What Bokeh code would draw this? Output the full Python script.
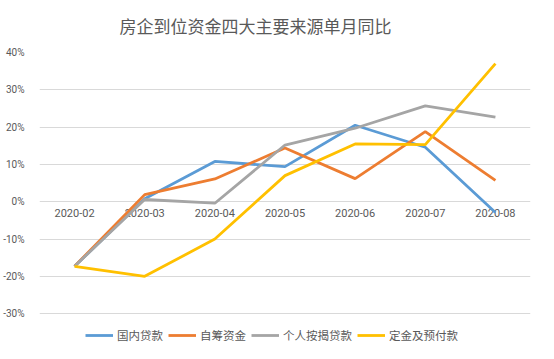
from bokeh.plotting import figure
from bokeh.models import FixedTicker, NumeralTickFormatter, Legend, LegendItem
from bokeh.core.properties import value
from bokeh.embed import file_html
from bokeh.resources import INLINE

months = ["2020-02", "2020-03", "2020-04", "2020-05", "2020-06", "2020-07", "2020-08"]
domestic_loans = [-0.173, 0.008, 0.108, 0.094, 0.205, 0.146, -0.029]
self_raised = [-0.173, 0.019, 0.061, 0.144, 0.062, 0.188, 0.057]
mortgage = [-0.173, 0.006, -0.004, 0.152, 0.197, 0.257, 0.227]
deposits = [-0.173, -0.200, -0.100, 0.070, 0.155, 0.153, 0.370]
series_names = ["国内贷款", "自筹资金", "个人按揭贷款", "定金及预付款"]
y_ticks = [-0.3, -0.2, -0.1, 0.0, 0.1, 0.2, 0.3, 0.4]

colors = ["#5B9BD5", "#ED7D31", "#A5A5A5", "#FFC000"]
text_color = "#595959"
grid_color = "#D9D9D9"

p = figure(width=538, height=343, x_range=months,
           y_range=(-0.38, 0.40), output_backend="svg",
           toolbar_location=None, x_axis_location=None,
           min_border_left=35, min_border_right=8,
           min_border_top=43, min_border_bottom=0,
           title="房企到位资金四大主要来源单月同比")
p.outline_line_color = None
p.title.align = "left"
p.title.offset = 80
p.title.vertical_align = "top"
p.title.text_font = "Noto Sans CJK SC"
p.title.text_font_size = "17px"
p.title.text_font_style = "normal"
p.title.text_color = text_color
p.title.standoff = 25

p.xgrid.grid_line_color = None
p.ygrid.grid_line_color = grid_color

p.yaxis.ticker = FixedTicker(ticks=y_ticks)
p.yaxis.formatter = NumeralTickFormatter(format="0%")
p.yaxis.axis_line_color = None
p.yaxis.major_tick_line_color = None
p.yaxis.minor_tick_line_color = None
p.yaxis.major_label_text_color = text_color
p.yaxis.major_label_text_font = "Roboto"
p.yaxis.major_label_text_font_size = "10px"
p.yaxis.major_label_standoff = 9

p.text(x=months, y=[0.0] * len(months), text=months, text_align="center",
       text_baseline="top", y_offset=7, text_color=text_color,
       text_font=value("Roboto"), text_font_size="11px")

items = []
for name, vals, c in zip(series_names, [domestic_loans, self_raised, mortgage, deposits], colors):
    r = p.line(months, vals, line_color=c, line_width=2.8)
    items.append(LegendItem(label=name, renderers=[r]))

legend = Legend(items=items, orientation="horizontal", location=(46, 0),
                label_text_font="Noto Sans CJK SC", label_text_font_size="11.5px",
                label_text_color=text_color, glyph_width=28, glyph_height=10,
                spacing=5, label_standoff=4, border_line_color=None,
                background_fill_alpha=0, padding=0, margin=0)
p.add_layout(legend)

open("out.html", "w").write(file_html(p, INLINE))
